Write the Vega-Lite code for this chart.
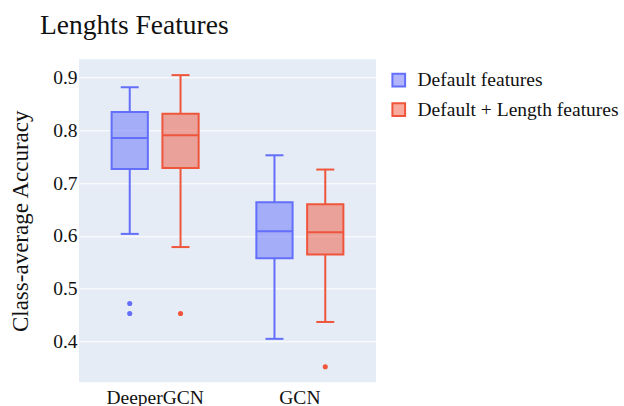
{
  "$schema": "https://vega.github.io/schema/vega-lite/v6.json",
  "autosize": {"type": "none"},
  "width": 297,
  "height": 323,
  "padding": {"left": 79, "top": 59.3, "right": 248, "bottom": 23.7},
  "background": "white",
  "config": {
    "view": {"fill": "#E5ECF6", "stroke": null},
    "font": "Liberation Serif"
  },
  "title": {
    "text": "Lenghts Features",
    "anchor": "start",
    "frame": "group",
    "dx": -39,
    "dy": 29,
    "offset": 27,
    "baseline": "alphabetic",
    "font": "Liberation Serif",
    "fontSize": 27.5,
    "fontWeight": "normal",
    "color": "#111"
  },
  "datasets": {
    "stats": [
      {"model": "DeeperGCN", "group": "Default features", "lower": 0.604, "q1": 0.727, "median": 0.786, "q3": 0.835, "upper": 0.882},
      {"model": "DeeperGCN", "group": "Default + Length features", "lower": 0.579, "q1": 0.729, "median": 0.791, "q3": 0.832, "upper": 0.905},
      {"model": "GCN", "group": "Default features", "lower": 0.405, "q1": 0.558, "median": 0.609, "q3": 0.664, "upper": 0.753},
      {"model": "GCN", "group": "Default + Length features", "lower": 0.437, "q1": 0.565, "median": 0.607, "q3": 0.660, "upper": 0.726}
    ],
    "outliers": [
      {"model": "DeeperGCN", "group": "Default features", "value": 0.472},
      {"model": "DeeperGCN", "group": "Default features", "value": 0.453},
      {"model": "DeeperGCN", "group": "Default + Length features", "value": 0.453},
      {"model": "GCN", "group": "Default + Length features", "value": 0.352}
    ]
  },
  "encoding": {
    "x": {
      "field": "model",
      "type": "nominal",
      "scale": {"domain": ["DeeperGCN", "GCN"], "paddingInner": 0, "paddingOuter": 0.026},
      "axis": {
        "title": null,
        "labelAngle": 0,
        "ticks": false,
        "domain": false,
        "grid": false,
        "labelFont": "Liberation Serif",
        "labelFontSize": 19.5,
        "labelColor": "#111",
        "labelPadding": 6
      }
    },
    "xOffset": {
      "field": "group",
      "type": "nominal",
      "scale": {"domain": ["Default features", "Default + Length features"], "paddingInner": 0.287, "paddingOuter": 0.568}
    },
    "color": {
      "field": "group",
      "type": "nominal",
      "scale": {"domain": ["Default features", "Default + Length features"], "range": ["#636efa", "#EF553B"]},
      "legend": {
        "title": null,
        "orient": "none",
        "legendX": 310,
        "legendY": 11,
        "padding": 0,
        "symbolType": "square",
        "symbolSize": 161,
        "symbolStrokeWidth": 2,
        "labelFont": "Liberation Serif",
        "labelFontSize": 19.5,
        "labelColor": "#111",
        "labelOffset": 9,
        "labelLimit": 400,
        "rowPadding": 7.5,
        "encode": {
          "symbols": {
            "update": {
              "fill": {"field": "value", "scale": "color"},
              "fillOpacity": {"value": 0.5},
              "stroke": {"field": "value", "scale": "color"},
              "strokeWidth": {"value": 2},
              "opacity": {"value": 1}
            }
          }
        }
      }
    }
  },
  "layer": [
    {
      "data": {"name": "stats"},
      "mark": {"type": "rule", "strokeWidth": 2},
      "encoding": {
        "y": {
          "field": "lower",
          "type": "quantitative",
          "scale": {"domain": [0.3226, 0.935], "nice": false, "zero": false},
          "axis": {
            "values": [0.4, 0.5, 0.6, 0.7, 0.8, 0.9],
            "format": ".1f",
            "title": "Class-average Accuracy",
            "titleFont": "Liberation Serif",
            "titleFontSize": 23,
            "titleFontWeight": "normal",
            "titleColor": "#111",
            "titlePadding": 20,
            "labelFont": "Liberation Serif",
            "labelFontSize": 19.5,
            "labelColor": "#111",
            "labelPadding": 2,
            "ticks": false,
            "domain": false,
            "grid": true,
            "gridColor": "white",
            "gridWidth": 1,
            "gridOpacity": 1
          }
        },
        "y2": {"field": "q1"}
      }
    },
    {
      "data": {"name": "stats"},
      "mark": {"type": "rule", "strokeWidth": 2},
      "encoding": {
        "y": {"field": "q3", "type": "quantitative"},
        "y2": {"field": "upper"}
      }
    },
    {
      "data": {"name": "stats"},
      "mark": {"type": "bar", "fillOpacity": 0.5, "strokeWidth": 2, "opacity": 1},
      "encoding": {
        "y": {"field": "q1", "type": "quantitative"},
        "y2": {"field": "q3"},
        "stroke": {
          "field": "group",
          "type": "nominal",
          "scale": {"domain": ["Default features", "Default + Length features"], "range": ["#636efa", "#EF553B"]},
          "legend": null
        }
      }
    },
    {
      "data": {"name": "stats"},
      "mark": {"type": "tick", "size": 36, "thickness": 2, "opacity": 1},
      "encoding": {
        "y": {"field": "median", "type": "quantitative"}
      }
    },
    {
      "data": {"name": "stats"},
      "mark": {"type": "tick", "size": 18, "thickness": 2, "opacity": 1},
      "encoding": {
        "y": {"field": "lower", "type": "quantitative"}
      }
    },
    {
      "data": {"name": "stats"},
      "mark": {"type": "tick", "size": 18, "thickness": 2, "opacity": 1},
      "encoding": {
        "y": {"field": "upper", "type": "quantitative"}
      }
    },
    {
      "data": {"name": "outliers"},
      "mark": {"type": "circle", "size": 26, "opacity": 1},
      "encoding": {
        "y": {"field": "value", "type": "quantitative"}
      }
    }
  ]
}
